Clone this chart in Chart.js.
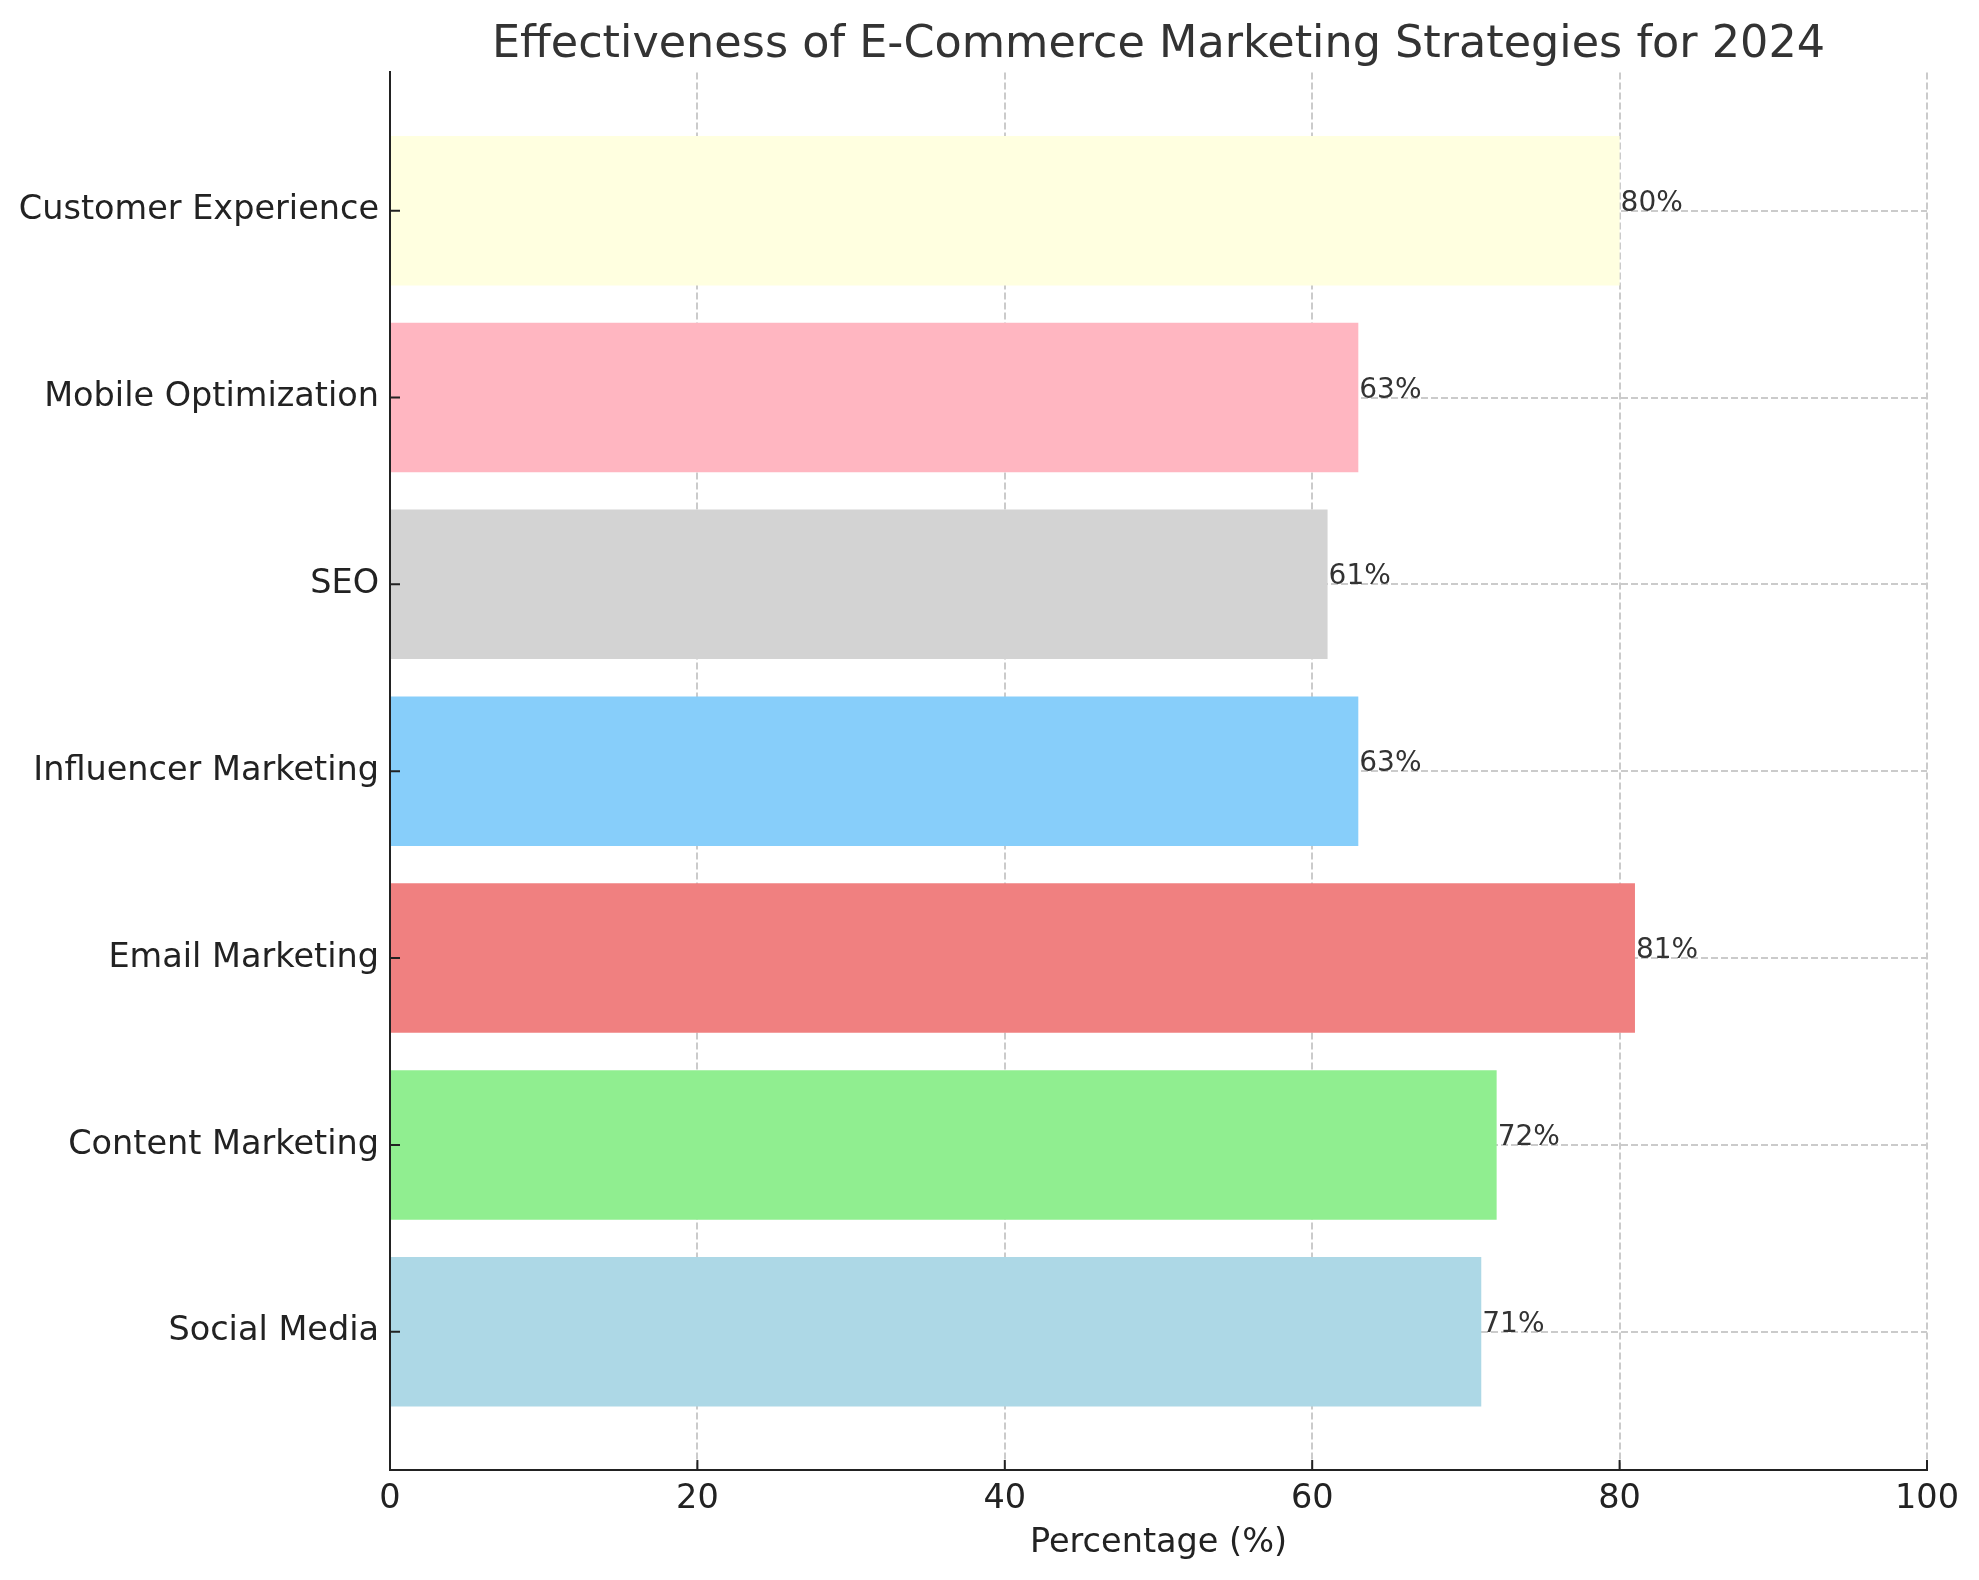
<!DOCTYPE html>
<html>
<head>
<meta charset="utf-8">
<script src="https://cdn.jsdelivr.net/npm/chart.js@4"></script>
<style>
  body { margin: 0; background: #fff; }
</style>
</head>
<body>
<canvas id="chart" width="1979" height="1580"></canvas>
<script>
// bottom to top, same order as the bars in the picture
var strategies = ["Social Media", "Content Marketing", "Email Marketing", "Influencer Marketing", "SEO", "Mobile Optimization", "Customer Experience"];
var effectiveness = [71, 72, 81, 63, 61, 63, 80];
var barColors = ["#ADD8E6", "#90EE90", "#F08080", "#87CEFA", "#D3D3D3", "#FFB6C1", "#FFFFE0"];
var xTicks = [0, 20, 40, 60, 80, 100];

Chart.defaults.font.family = "'DejaVu Sans', sans-serif";

var barData = [];
for (var i = 0; i < strategies.length; i++) {
  barData.push({ x: effectiveness[i], y: i });
}

// matplotlib draws its ticks pointing into the plot
var inwardTicks = {
  id: 'inwardTicks',
  afterDraw: function (chart) {
    var ctx = chart.ctx;
    var area = chart.chartArea;
    var xs = chart.scales.x;
    var ys = chart.scales.y;
    ctx.save();
    ctx.strokeStyle = '#222';
    ctx.lineWidth = 2;
    ctx.beginPath();
    xTicks.forEach(function (v) {
      var px = xs.getPixelForValue(v);
      ctx.moveTo(px, area.bottom);
      ctx.lineTo(px, area.bottom - 10);
    });
    strategies.forEach(function (s, i) {
      var py = ys.getPixelForValue(i);
      ctx.moveTo(area.left, py);
      ctx.lineTo(area.left + 10, py);
    });
    ctx.stroke();
    ctx.restore();
  }
};

var valueLabels = {
  id: 'valueLabels',
  afterDraw: function (chart) {
    var ctx = chart.ctx;
    var meta = chart.getDatasetMeta(0);
    ctx.save();
    ctx.fillStyle = '#333';
    ctx.font = "28px 'DejaVu Sans'";
    ctx.textAlign = 'left';
    ctx.textBaseline = 'alphabetic';
    meta.data.forEach(function (bar, i) {
      ctx.fillText(effectiveness[i] + '%', bar.x + 1, bar.y);
    });
    ctx.restore();
  }
};

var chart = new Chart(document.getElementById('chart').getContext('2d'), {
  type: 'bar',
  data: {
    datasets: [{
      data: barData,
      backgroundColor: barColors,
      borderWidth: 0,
      categoryPercentage: 1,
      barPercentage: 0.8
    }]
  },
  options: {
    indexAxis: 'y',
    responsive: false,
    animation: false,
    devicePixelRatio: 1,
    layout: { padding: { left: 0, right: 52, top: 0, bottom: 0 } },
    plugins: {
      legend: { display: false },
      tooltip: { enabled: false },
      title: {
        display: true,
        text: 'Effectiveness of E-Commerce Marketing Strategies for 2024',
        color: '#333',
        fullSize: false,
        font: { size: 44.5, weight: 'normal' },
        padding: { top: 19, bottom: 0 }
      }
    },
    scales: {
      x: {
        type: 'linear',
        min: 0,
        max: 100,
        z: 1,
        afterBuildTicks: function (scale) {
          scale.ticks = xTicks.map(function (v) { return { value: v }; });
        },
        afterFit: function (scale) { scale.height = 110; },
        ticks: { color: '#222', font: { size: 33.5 }, padding: 9 },
        grid: { color: '#cbcbcb', lineWidth: 2, drawTicks: false },
        border: { display: true, color: '#222', width: 2, dash: [7, 3] },
        title: {
          display: true,
          text: 'Percentage (%)',
          color: '#222',
          font: { size: 33.5 },
          padding: { top: 0, bottom: 17 }
        }
      },
      y: {
        type: 'linear',
        min: -0.74,
        max: 6.74,
        offset: false,
        z: 1,
        afterBuildTicks: function (scale) {
          scale.ticks = strategies.map(function (s, i) { return { value: i }; });
        },
        afterFit: function (scale) { scale.width = 390; },
        ticks: {
          color: '#222',
          font: { size: 33.5 },
          padding: 11,
          callback: function (value) { return strategies[value]; }
        },
        grid: { color: '#cbcbcb', lineWidth: 2, drawTicks: false, offset: false },
        border: { display: true, color: '#222', width: 2, dash: [7, 3] }
      }
    }
  },
  plugins: [inwardTicks, valueLabels]
});
</script>
</body>
</html>
